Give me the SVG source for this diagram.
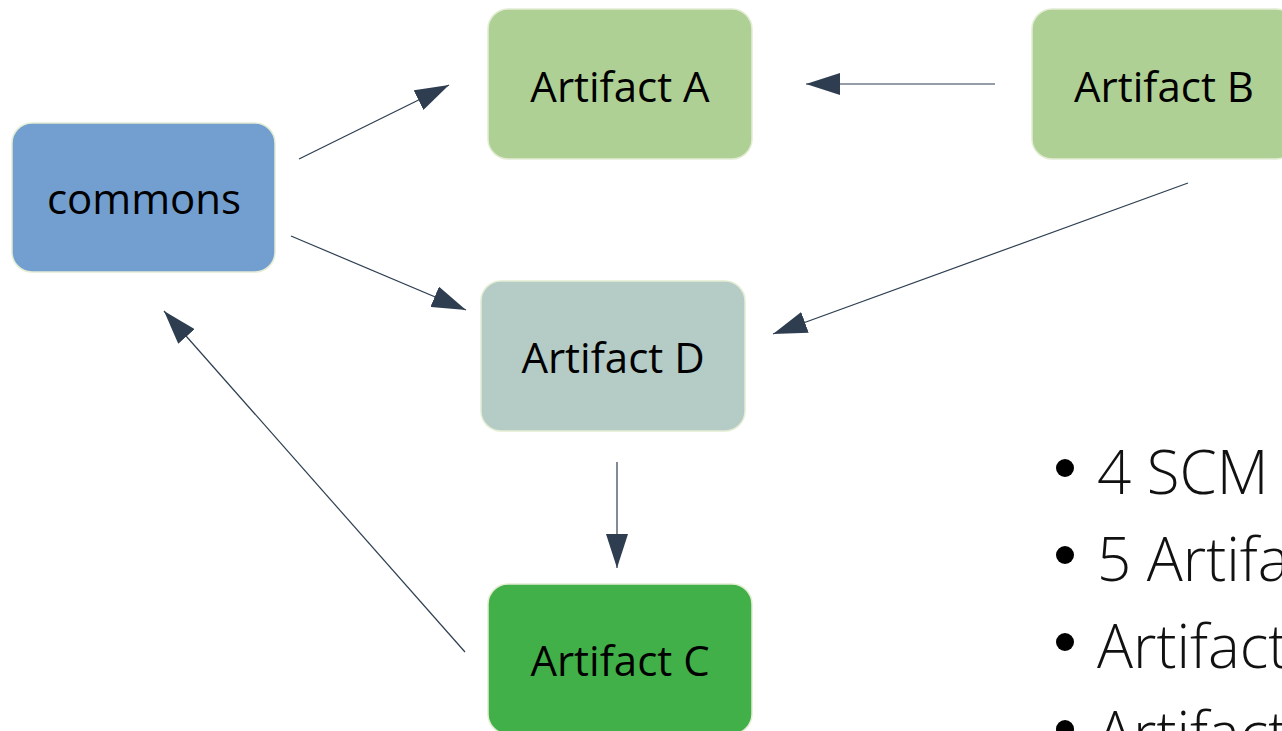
<svg xmlns="http://www.w3.org/2000/svg" width="1282" height="731" viewBox="0 0 1282 731">
<style>
.node rect{stroke:#e4ecd4;stroke-width:1.5}
.label{font-family:"Open Sans","Noto Sans","Liberation Sans",sans-serif;font-size:42px;fill:#000;text-anchor:middle}
.edge{stroke:#2c3e50;stroke-width:1.2;fill:none;marker-end:url(#arr)}
.bullet{font-family:"Open Sans",Lato,"Liberation Sans",sans-serif;font-weight:300;font-size:60px;fill:#111}
</style>
<defs>
<marker id="arr" markerUnits="userSpaceOnUse" markerWidth="34" markerHeight="22" refX="34" refY="11" orient="auto">
<path d="M0,0 L34,11 L0,22 z" fill="#2e3e50"/>
</marker>
</defs>
<rect width="1282" height="731" fill="#fff"/>
<g id="connectors">
<line class="edge" x1="299" y1="159" x2="449" y2="85"/>
<line class="edge" x1="995" y1="84" x2="806" y2="84"/>
<line class="edge" x1="291" y1="236" x2="466" y2="310"/>
<line class="edge" x1="1188" y1="183" x2="773" y2="334"/>
<line class="edge" x1="617" y1="462" x2="617" y2="568"/>
<line class="edge" x1="465" y1="652" x2="164" y2="311"/>
</g>
<g id="commons" class="node">
<rect x="12" y="123" width="263" height="149" rx="20" fill="#729fcf"/>
<text class="label" x="144" y="214">commons</text>
</g>
<g id="artifact-a" class="node">
<rect x="488" y="9" width="264" height="150" rx="20" fill="#afd095"/>
<text class="label" x="620" y="102">Artifact A</text>
</g>
<g id="artifact-b" class="node">
<rect x="1032" y="9" width="264" height="150" rx="20" fill="#afd095"/>
<text class="label" x="1164" y="102">Artifact B</text>
</g>
<g id="artifact-d" class="node">
<rect x="481" y="281" width="264" height="150" rx="20" fill="#b4cbc6"/>
<text class="label" x="613" y="373">Artifact D</text>
</g>
<g id="artifact-c" class="node">
<rect x="488" y="584" width="264" height="150" rx="20" fill="#42b048"/>
<text class="label" x="620" y="676">Artifact C</text>
</g>
<g id="bullets">
<circle cx="1065" cy="468" r="9" fill="#000"/>
<text class="bullet" x="1097" y="494">4 SCM</text>
<circle cx="1065" cy="555" r="9" fill="#000"/>
<text class="bullet" x="1097" y="581">5 Artifa</text>
<circle cx="1065" cy="642" r="9" fill="#000"/>
<text class="bullet" x="1097" y="668">Artifact</text>
<circle cx="1065" cy="729" r="9" fill="#000"/>
<text class="bullet" x="1097" y="755">Artifact</text>
</g>
</svg>
